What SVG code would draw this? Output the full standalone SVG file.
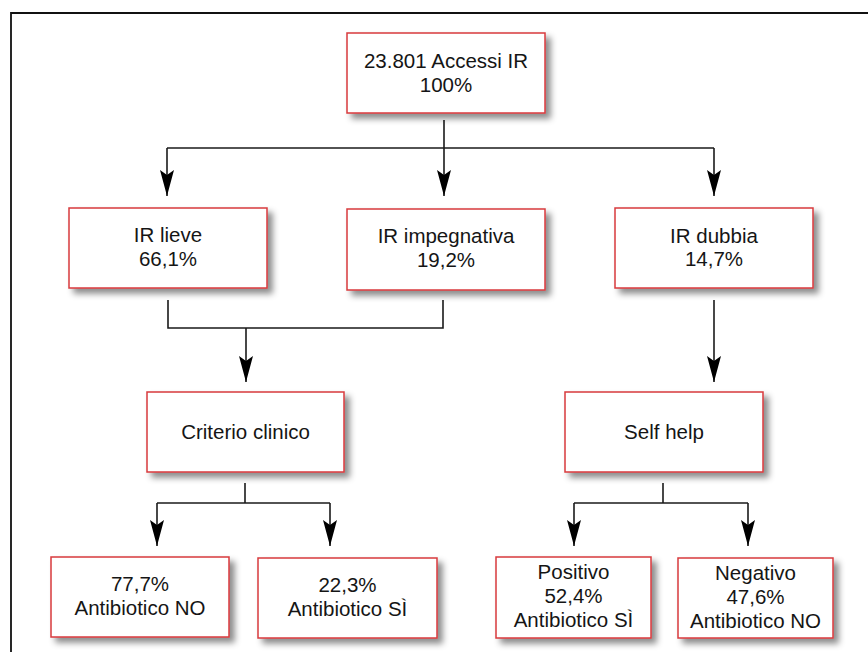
<svg xmlns="http://www.w3.org/2000/svg" width="868" height="652" viewBox="0 0 868 652">
<style>
.box{fill:#fff;stroke:#d83a3c;stroke-width:1.5;filter:url(#sh)}
.t{font-family:"Liberation Sans",Arial,sans-serif;font-size:20.5px;fill:#151515;text-anchor:middle}
.c{fill:none;stroke:#1a1a1a;stroke-width:1.6}
.frame{fill:none;stroke:#111;stroke-width:1.8}
</style>
<defs>
<filter id="sh" x="-10%" y="-10%" width="130%" height="140%">
<feDropShadow dx="5" dy="5" stdDeviation="3" flood-color="#000" flood-opacity="0.45"/>
</filter>
<marker id="ah" markerUnits="userSpaceOnUse" markerWidth="30" markerHeight="20" viewBox="-28 -10 30 20" refX="0" refY="0" orient="auto">
<path d="M0,0 L-26,-7 L-21,0 L-26,7 Z" fill="#000"/>
</marker>
</defs>
<rect width="868" height="652" fill="#fff"/>
<path class="frame" d="M11,652 V13 H868"/>

<g id="connectors">
<path class="c" d="M444,120 V196" marker-end="url(#ah)"/>
<path class="c" d="M167,148 H714"/>
<path class="c" d="M167,148 V196" marker-end="url(#ah)"/>
<path class="c" d="M714,148 V196" marker-end="url(#ah)"/>
<path class="c" d="M168,300 V328 H443 V300"/>
<path class="c" d="M246,328 V382" marker-end="url(#ah)"/>
<path class="c" d="M714,300 V382" marker-end="url(#ah)"/>
<path class="c" d="M245,483 V503"/>
<path class="c" d="M157,503 H330"/>
<path class="c" d="M157,503 V546" marker-end="url(#ah)"/>
<path class="c" d="M330,503 V546" marker-end="url(#ah)"/>
<path class="c" d="M663,483 V503"/>
<path class="c" d="M574,503 H748"/>
<path class="c" d="M574,503 V546" marker-end="url(#ah)"/>
<path class="c" d="M748,503 V546" marker-end="url(#ah)"/>
</g>

<g id="n-root">
<rect class="box" x="347" y="33" width="198" height="80"/>
<text class="t" x="446" y="68">23.801 Accessi IR</text>
<text class="t" x="446" y="92">100%</text>
</g>
<g id="n-lieve">
<rect class="box" x="69" y="208" width="198" height="80"/>
<text class="t" x="168" y="242">IR lieve</text>
<text class="t" x="168" y="266">66,1%</text>
</g>
<g id="n-impegnativa">
<rect class="box" x="347" y="209" width="198" height="81"/>
<text class="t" x="446" y="243">IR impegnativa</text>
<text class="t" x="446" y="267">19,2%</text>
</g>
<g id="n-dubbia">
<rect class="box" x="615" y="208" width="198" height="80"/>
<text class="t" x="714" y="243">IR dubbia</text>
<text class="t" x="714" y="266">14,7%</text>
</g>
<g id="n-criterio">
<rect class="box" x="147" y="392" width="197" height="80"/>
<text class="t" x="245.5" y="439">Criterio clinico</text>
</g>
<g id="n-selfhelp">
<rect class="box" x="565" y="392" width="198" height="80"/>
<text class="t" x="664" y="439">Self help</text>
</g>
<g id="n-no">
<rect class="box" x="51" y="557" width="178" height="80"/>
<text class="t" x="140" y="591">77,7%</text>
<text class="t" x="140" y="615">Antibiotico NO</text>
</g>
<g id="n-si">
<rect class="box" x="258" y="558" width="179" height="80"/>
<text class="t" x="347.5" y="592">22,3%</text>
<text class="t" x="347.5" y="616">Antibiotico SÌ</text>
</g>
<g id="n-positivo">
<rect class="box" x="496" y="557" width="155" height="81"/>
<text class="t" x="573.5" y="579">Positivo</text>
<text class="t" x="573.5" y="603">52,4%</text>
<text class="t" x="573.5" y="627">Antibiotico SÌ</text>
</g>
<g id="n-negativo">
<rect class="box" x="678" y="558" width="155" height="80"/>
<text class="t" x="755.5" y="580">Negativo</text>
<text class="t" x="755.5" y="604">47,6%</text>
<text class="t" x="755.5" y="628">Antibiotico NO</text>
</g>
</svg>
